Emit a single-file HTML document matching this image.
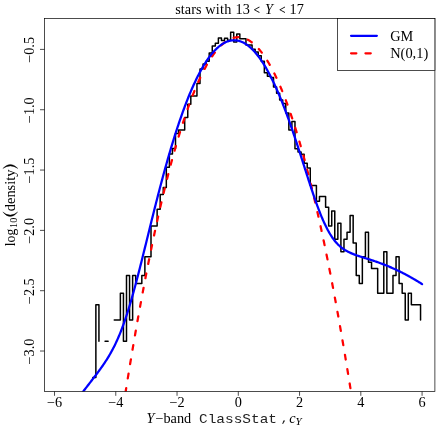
<!DOCTYPE html>
<html><head><meta charset="utf-8"><title>plot</title>
<style>
html,body{margin:0;padding:0;background:#fff;}
svg{display:block;will-change:transform;font-family:"Liberation Serif",serif;fill:#000;}
.mono{font-family:"Liberation Mono",monospace;}
</style></head><body>
<svg width="436" height="436" viewBox="0 0 436 436">
<rect width="436" height="436" fill="#fff"/>
<defs><clipPath id="c"><rect x="44.5" y="18.5" width="390.4" height="373.0"/></clipPath></defs>
<g clip-path="url(#c)" fill="none">
<path d="M92.81 377.50H95.87V304.86H98.93V341.18M105.06 341.18H108.12V341.18M114.25 319.94H117.31V319.94H120.37V293.17H123.44V341.18H126.50V275.54H129.56V319.94H132.63V275.54H135.69V283.62H138.75V283.62H141.82V275.54H144.88V256.85H147.94V256.85H151.00V226.05H154.07V226.05H157.13V209.20H160.19V194.50H163.26V187.40H166.32V167.20H169.38V154.00H172.45V148.50H175.51V133.60H178.57V130.10H181.63V130.10H184.70V117.60H187.76V104.20H190.82V96.05H193.89V96.05H196.95V83.60H200.01V68.90H203.08V64.00H206.14V61.30H209.20V53.00H212.26V46.10H215.33V43.30H218.39V37.90H221.45V40.50H224.52V38.20H227.58V40.30H230.64V32.30H233.71V41.90H236.77V34.10H239.83V38.70H242.89V38.70H245.96V45.10H249.02V45.10H252.08V49.30H255.15V52.00H258.21V55.70H261.27V61.20H264.34V72.80H267.40V76.30H270.46V77.40H273.52V87.00H276.59V93.30H279.65V100.00H282.71V103.50H285.78V113.10H288.84V130.10H291.90V121.60H294.97V148.80H298.03V151.90H301.09V154.20H304.15V163.20H307.22V168.00H310.28V185.50H313.34V185.50H316.41V201.30H319.47V196.50H322.53V196.50H325.60V207.30H328.66V226.05H331.72V210.98H334.78V239.22H337.85V223.22H340.91V251.86H343.97V239.22H347.04V232.22H350.10V215.54H353.16V243.10H356.23V275.54H359.29V283.62H362.35V256.85H365.41V232.22H368.48V262.37H371.54V268.54H374.60V268.54H377.67V293.17H380.73V293.17H383.79V251.86H386.86V293.17H389.92V293.17H392.98V275.54H396.04V256.85H399.11V283.62H402.17V293.17H405.23V319.94H408.30V293.17H411.36V304.86H414.42V304.86H417.49V304.86H420.55V319.94" stroke="#000" stroke-width="1.5" stroke-linejoin="round" stroke-linecap="round"/>
<path d="M121.91 415.54L122.49 411.76L123.07 408.01L123.65 404.27L124.23 400.55L124.82 396.86L125.40 393.18L125.98 389.52L126.56 385.88L127.14 382.25L127.73 378.65L128.31 375.07L128.89 371.50L129.47 367.95L130.05 364.43L130.64 360.92L131.22 357.43L131.80 353.96L132.38 350.50L132.96 347.07L133.55 343.66L134.13 340.26L134.71 336.88L135.29 333.53L135.87 330.19L136.46 326.87L137.04 323.57L137.62 320.29L138.20 317.02L138.78 313.78L139.37 310.55L139.95 307.35L140.53 304.16L141.11 300.99L141.69 297.84L142.27 294.71L142.86 291.60L143.44 288.51L144.02 285.43L144.60 282.38L145.18 279.34L145.77 276.33L146.35 273.33L146.93 270.35L147.51 267.39L148.09 264.45L148.68 261.53L149.26 258.62L149.84 255.74L150.42 252.87L151.00 250.02L151.59 247.20L152.17 244.39L152.75 241.60L153.33 238.83L153.91 236.07L154.50 233.34L155.08 230.63L155.66 227.93L156.24 225.25L156.82 222.60L157.41 219.96L157.99 217.34L158.57 214.74L159.15 212.16L159.73 209.59L160.32 207.05L160.90 204.52L161.48 202.02L162.06 199.53L162.64 197.06L163.23 194.61L163.81 192.18L164.39 189.77L164.97 187.38L165.55 185.00L166.14 182.65L166.72 180.31L167.30 177.99L167.88 175.70L168.46 173.42L169.05 171.16L169.63 168.92L170.21 166.69L170.79 164.49L171.37 162.30L171.96 160.14L172.54 157.99L173.12 155.86L173.70 153.75L174.28 151.66L174.87 149.59L175.45 147.54L176.03 145.51L176.61 143.49L177.19 141.50L177.78 139.52L178.36 137.56L178.94 135.62L179.52 133.70L180.10 131.80L180.68 129.92L181.27 128.06L181.85 126.21L182.43 124.39L183.01 122.58L183.59 120.79L184.18 119.03L184.76 117.28L185.34 115.54L185.92 113.83L186.50 112.14L187.09 110.47L187.67 108.81L188.25 107.17L188.83 105.56L189.41 103.96L190.00 102.38L190.58 100.82L191.16 99.28L191.74 97.75L192.32 96.25L192.91 94.77L193.49 93.30L194.07 91.85L194.65 90.43L195.23 89.02L195.82 87.63L196.40 86.25L196.98 84.90L197.56 83.57L198.14 82.25L198.73 80.96L199.31 79.68L199.89 78.42L200.47 77.18L201.05 75.96L201.64 74.76L202.22 73.58L202.80 72.42L203.38 71.27L203.96 70.15L204.55 69.04L205.13 67.95L205.71 66.88L206.29 65.83L206.87 64.80L207.46 63.79L208.04 62.80L208.62 61.82L209.20 60.87L209.78 59.93L210.37 59.02L210.95 58.12L211.53 57.24L212.11 56.38L212.69 55.54L213.28 54.71L213.86 53.91L214.44 53.12L215.02 52.36L215.60 51.61L216.19 50.88L216.77 50.17L217.35 49.48L217.93 48.81L218.51 48.16L219.09 47.52L219.68 46.91L220.26 46.31L220.84 45.74L221.42 45.18L222.00 44.64L222.59 44.12L223.17 43.62L223.75 43.14L224.33 42.67L224.91 42.23L225.50 41.80L226.08 41.40L226.66 41.01L227.24 40.64L227.82 40.29L228.41 39.96L228.99 39.65L229.57 39.35L230.15 39.08L230.73 38.82L231.32 38.59L231.90 38.37L232.48 38.17L233.06 37.99L233.64 37.83L234.23 37.69L234.81 37.57L235.39 37.46L235.97 37.38L236.55 37.31L237.14 37.26L237.72 37.23L238.30 37.23L238.88 37.23L239.46 37.26L240.05 37.31L240.63 37.38L241.21 37.46L241.79 37.57L242.37 37.69L242.96 37.83L243.54 37.99L244.12 38.17L244.70 38.37L245.28 38.59L245.87 38.82L246.45 39.08L247.03 39.35L247.61 39.65L248.19 39.96L248.78 40.29L249.36 40.64L249.94 41.01L250.52 41.40L251.10 41.80L251.69 42.23L252.27 42.67L252.85 43.14L253.43 43.62L254.01 44.12L254.60 44.64L255.18 45.18L255.76 45.74L256.34 46.31L256.92 46.91L257.51 47.52L258.09 48.16L258.67 48.81L259.25 49.48L259.83 50.17L260.41 50.88L261.00 51.61L261.58 52.36L262.16 53.12L262.74 53.91L263.32 54.71L263.91 55.54L264.49 56.38L265.07 57.24L265.65 58.12L266.23 59.02L266.82 59.93L267.40 60.87L267.98 61.82L268.56 62.80L269.14 63.79L269.73 64.80L270.31 65.83L270.89 66.88L271.47 67.95L272.05 69.04L272.64 70.15L273.22 71.27L273.80 72.42L274.38 73.58L274.96 74.76L275.55 75.96L276.13 77.18L276.71 78.42L277.29 79.68L277.87 80.96L278.46 82.25L279.04 83.57L279.62 84.90L280.20 86.25L280.78 87.63L281.37 89.02L281.95 90.43L282.53 91.85L283.11 93.30L283.69 94.77L284.28 96.25L284.86 97.75L285.44 99.28L286.02 100.82L286.60 102.38L287.19 103.96L287.77 105.56L288.35 107.17L288.93 108.81L289.51 110.47L290.10 112.14L290.68 113.83L291.26 115.54L291.84 117.28L292.42 119.03L293.01 120.79L293.59 122.58L294.17 124.39L294.75 126.21L295.33 128.06L295.92 129.92L296.50 131.80L297.08 133.70L297.66 135.62L298.24 137.56L298.82 139.52L299.41 141.50L299.99 143.49L300.57 145.51L301.15 147.54L301.73 149.59L302.32 151.66L302.90 153.75L303.48 155.86L304.06 157.99L304.64 160.14L305.23 162.30L305.81 164.49L306.39 166.69L306.97 168.92L307.55 171.16L308.14 173.42L308.72 175.70L309.30 177.99L309.88 180.31L310.46 182.65L311.05 185.00L311.63 187.38L312.21 189.77L312.79 192.18L313.37 194.61L313.96 197.06L314.54 199.53L315.12 202.02L315.70 204.52L316.28 207.05L316.87 209.59L317.45 212.16L318.03 214.74L318.61 217.34L319.19 219.96L319.78 222.60L320.36 225.25L320.94 227.93L321.52 230.63L322.10 233.34L322.69 236.07L323.27 238.83L323.85 241.60L324.43 244.39L325.01 247.20L325.60 250.02L326.18 252.87L326.76 255.74L327.34 258.62L327.92 261.53L328.51 264.45L329.09 267.39L329.67 270.35L330.25 273.33L330.83 276.33L331.42 279.34L332.00 282.38L332.58 285.43L333.16 288.51L333.74 291.60L334.33 294.71L334.91 297.84L335.49 300.99L336.07 304.16L336.65 307.35L337.23 310.55L337.82 313.78L338.40 317.02L338.98 320.29L339.56 323.57L340.14 326.87L340.73 330.19L341.31 333.53L341.89 336.88L342.47 340.26L343.05 343.66L343.64 347.07L344.22 350.50L344.80 353.96L345.38 357.43L345.96 360.92L346.55 364.43L347.13 367.95L347.71 371.50L348.29 375.07L348.87 378.65L349.46 382.25L350.04 385.88L350.62 389.52L351.20 393.18L351.78 396.86L352.37 400.55L352.95 404.27L353.53 408.01L354.11 411.76L354.69 415.54" stroke="#ff0000" stroke-width="2.25" stroke-dasharray="4.75 9.79" stroke-dashoffset="6.03" stroke-linecap="round"/>
<path d="M54.52 431.92L55.13 430.98L55.75 430.04L56.36 429.11L56.97 428.18L57.58 427.25L58.20 426.33L58.81 425.41L59.42 424.50L60.03 423.59L60.65 422.68L61.26 421.78L61.87 420.87L62.48 419.98L63.10 419.08L63.71 418.19L64.32 417.31L64.93 416.42L65.55 415.54L66.16 414.67L66.77 413.79L67.38 412.92L68.00 412.05L68.61 411.19L69.22 410.33L69.84 409.47L70.45 408.62L71.06 407.77L71.67 406.92L72.29 406.08L72.90 405.23L73.51 404.40L74.12 403.56L74.74 402.73L75.35 401.90L75.96 401.07L76.57 400.25L77.19 399.42L77.80 398.61L78.41 397.79L79.02 396.97L79.64 396.16L80.25 395.35L80.86 394.55L81.47 393.74L82.09 392.94L82.70 392.14L83.31 391.34L83.92 390.54L84.54 389.74L85.15 388.95L85.76 388.15L86.38 387.36L86.99 386.57L87.60 385.78L88.21 384.98L88.83 384.19L89.44 383.40L90.05 382.61L90.66 381.82L91.28 381.03L91.89 380.24L92.50 379.44L93.11 378.64L93.73 377.85L94.34 377.05L94.95 376.24L95.56 375.44L96.18 374.63L96.79 373.81L97.40 372.99L98.01 372.17L98.63 371.34L99.24 370.51L99.85 369.67L100.47 368.82L101.08 367.96L101.69 367.10L102.30 366.23L102.92 365.34L103.53 364.45L104.14 363.55L104.75 362.63L105.37 361.70L105.98 360.76L106.59 359.80L107.20 358.83L107.82 357.85L108.43 356.84L109.04 355.82L109.65 354.78L110.27 353.72L110.88 352.64L111.49 351.53L112.10 350.41L112.72 349.26L113.33 348.09L113.94 346.89L114.55 345.66L115.17 344.41L115.78 343.13L116.39 341.82L117.01 340.48L117.62 339.12L118.23 337.72L118.84 336.29L119.46 334.82L120.07 333.33L120.68 331.80L121.29 330.23L121.91 328.63L122.52 327.00L123.13 325.34L123.74 323.64L124.36 321.90L124.97 320.13L125.58 318.32L126.19 316.49L126.81 314.61L127.42 312.71L128.03 310.77L128.64 308.79L129.26 306.79L129.87 304.75L130.48 302.69L131.10 300.59L131.71 298.47L132.32 296.32L132.93 294.14L133.55 291.93L134.16 289.70L134.77 287.45L135.38 285.17L136.00 282.87L136.61 280.55L137.22 278.22L137.83 275.86L138.45 273.49L139.06 271.10L139.67 268.70L140.28 266.28L140.90 263.86L141.51 261.42L142.12 258.97L142.73 256.52L143.35 254.05L143.96 251.58L144.57 249.11L145.18 246.63L145.80 244.15L146.41 241.66L147.02 239.18L147.64 236.69L148.25 234.21L148.86 231.72L149.47 229.24L150.09 226.76L150.70 224.29L151.31 221.82L151.92 219.35L152.54 216.90L153.15 214.44L153.76 212.00L154.37 209.56L154.99 207.13L155.60 204.72L156.21 202.31L156.82 199.91L157.44 197.52L158.05 195.14L158.66 192.78L159.27 190.42L159.89 188.08L160.50 185.75L161.11 183.44L161.73 181.13L162.34 178.85L162.95 176.57L163.56 174.31L164.18 172.07L164.79 169.84L165.40 167.62L166.01 165.43L166.63 163.24L167.24 161.08L167.85 158.93L168.46 156.79L169.08 154.67L169.69 152.57L170.30 150.49L170.91 148.42L171.53 146.38L172.14 144.34L172.75 142.33L173.36 140.34L173.98 138.36L174.59 136.40L175.20 134.46L175.81 132.53L176.43 130.63L177.04 128.74L177.65 126.87L178.27 125.02L178.88 123.19L179.49 121.38L180.10 119.59L180.72 117.82L181.33 116.06L181.94 114.33L182.55 112.61L183.17 110.91L183.78 109.24L184.39 107.58L185.00 105.94L185.62 104.32L186.23 102.72L186.84 101.14L187.45 99.58L188.07 98.04L188.68 96.52L189.29 95.02L189.90 93.54L190.52 92.08L191.13 90.64L191.74 89.22L192.36 87.82L192.97 86.44L193.58 85.08L194.19 83.74L194.81 82.41L195.42 81.11L196.03 79.83L196.64 78.57L197.26 77.33L197.87 76.11L198.48 74.91L199.09 73.73L199.71 72.57L200.32 71.43L200.93 70.32L201.54 69.22L202.16 68.14L202.77 67.08L203.38 66.04L203.99 65.03L204.61 64.03L205.22 63.05L205.83 62.10L206.44 61.16L207.06 60.25L207.67 59.35L208.28 58.48L208.90 57.62L209.51 56.79L210.12 55.98L210.73 55.19L211.35 54.41L211.96 53.66L212.57 52.93L213.18 52.22L213.80 51.53L214.41 50.86L215.02 50.21L215.63 49.58L216.25 48.97L216.86 48.39L217.47 47.82L218.08 47.27L218.70 46.75L219.31 46.24L219.92 45.76L220.53 45.29L221.15 44.85L221.76 44.43L222.37 44.02L222.99 43.64L223.60 43.28L224.21 42.94L224.82 42.62L225.44 42.32L226.05 42.04L226.66 41.78L227.27 41.54L227.89 41.32L228.50 41.13L229.11 40.95L229.72 40.79L230.34 40.66L230.95 40.54L231.56 40.45L232.17 40.37L232.79 40.32L233.40 40.29L234.01 40.28L234.62 40.28L235.24 40.31L235.85 40.36L236.46 40.43L237.07 40.52L237.69 40.63L238.30 40.76L238.91 40.91L239.53 41.09L240.14 41.28L240.75 41.49L241.36 41.73L241.98 41.98L242.59 42.25L243.20 42.55L243.81 42.86L244.43 43.20L245.04 43.56L245.65 43.93L246.26 44.33L246.88 44.75L247.49 45.18L248.10 45.64L248.71 46.12L249.33 46.62L249.94 47.14L250.55 47.68L251.16 48.24L251.78 48.82L252.39 49.42L253.00 50.04L253.62 50.68L254.23 51.34L254.84 52.02L255.45 52.72L256.07 53.44L256.68 54.19L257.29 54.95L257.90 55.73L258.52 56.53L259.13 57.35L259.74 58.19L260.35 59.06L260.97 59.94L261.58 60.84L262.19 61.76L262.80 62.70L263.42 63.66L264.03 64.64L264.64 65.64L265.25 66.66L265.87 67.70L266.48 68.76L267.09 69.84L267.70 70.94L268.32 72.06L268.93 73.20L269.54 74.35L270.16 75.53L270.77 76.72L271.38 77.94L271.99 79.17L272.61 80.42L273.22 81.69L273.83 82.98L274.44 84.29L275.06 85.61L275.67 86.96L276.28 88.32L276.89 89.70L277.51 91.10L278.12 92.52L278.73 93.96L279.34 95.41L279.96 96.88L280.57 98.37L281.18 99.88L281.79 101.40L282.41 102.94L283.02 104.50L283.63 106.07L284.25 107.66L284.86 109.26L285.47 110.89L286.08 112.52L286.70 114.18L287.31 115.85L287.92 117.53L288.53 119.23L289.15 120.94L289.76 122.66L290.37 124.41L290.98 126.16L291.60 127.93L292.21 129.70L292.82 131.50L293.43 133.30L294.05 135.11L294.66 136.94L295.27 138.78L295.88 140.62L296.50 142.48L297.11 144.34L297.72 146.22L298.33 148.10L298.95 149.99L299.56 151.88L300.17 153.78L300.79 155.69L301.40 157.60L302.01 159.51L302.62 161.43L303.24 163.35L303.85 165.27L304.46 167.19L305.07 169.10L305.69 171.02L306.30 172.94L306.91 174.85L307.52 176.76L308.14 178.66L308.75 180.56L309.36 182.44L309.97 184.32L310.59 186.19L311.20 188.05L311.81 189.90L312.42 191.73L313.04 193.55L313.65 195.35L314.26 197.14L314.88 198.90L315.49 200.65L316.10 202.38L316.71 204.08L317.33 205.77L317.94 207.42L318.55 209.06L319.16 210.66L319.78 212.24L320.39 213.80L321.00 215.32L321.61 216.81L322.23 218.27L322.84 219.70L323.45 221.10L324.06 222.47L324.68 223.80L325.29 225.10L325.90 226.36L326.51 227.59L327.13 228.79L327.74 229.95L328.35 231.07L328.96 232.16L329.58 233.22L330.19 234.24L330.80 235.23L331.42 236.18L332.03 237.10L332.64 237.99L333.25 238.85L333.87 239.67L334.48 240.46L335.09 241.22L335.70 241.95L336.32 242.66L336.93 243.33L337.54 243.98L338.15 244.60L338.77 245.19L339.38 245.76L339.99 246.31L340.60 246.84L341.22 247.34L341.83 247.82L342.44 248.28L343.05 248.73L343.67 249.15L344.28 249.56L344.89 249.95L345.50 250.32L346.12 250.68L346.73 251.03L347.34 251.37L347.96 251.69L348.57 252.00L349.18 252.30L349.79 252.59L350.41 252.87L351.02 253.14L351.63 253.40L352.24 253.66L352.86 253.90L353.47 254.15L354.08 254.38L354.69 254.61L355.31 254.84L355.92 255.06L356.53 255.27L357.14 255.49L357.76 255.70L358.37 255.90L358.98 256.11L359.59 256.31L360.21 256.51L360.82 256.71L361.43 256.90L362.05 257.10L362.66 257.29L363.27 257.49L363.88 257.68L364.50 257.87L365.11 258.06L365.72 258.26L366.33 258.45L366.95 258.64L367.56 258.84L368.17 259.03L368.78 259.23L369.40 259.42L370.01 259.62L370.62 259.82L371.23 260.02L371.85 260.22L372.46 260.42L373.07 260.62L373.68 260.83L374.30 261.03L374.91 261.24L375.52 261.45L376.13 261.66L376.75 261.88L377.36 262.09L377.97 262.31L378.59 262.53L379.20 262.75L379.81 262.98L380.42 263.20L381.04 263.43L381.65 263.66L382.26 263.89L382.87 264.12L383.49 264.36L384.10 264.60L384.71 264.84L385.32 265.08L385.94 265.33L386.55 265.58L387.16 265.83L387.77 266.08L388.39 266.33L389.00 266.59L389.61 266.85L390.22 267.11L390.84 267.38L391.45 267.64L392.06 267.91L392.68 268.18L393.29 268.46L393.90 268.73L394.51 269.01L395.13 269.29L395.74 269.57L396.35 269.86L396.96 270.15L397.58 270.44L398.19 270.73L398.80 271.03L399.41 271.33L400.03 271.63L400.64 271.93L401.25 272.23L401.86 272.54L402.48 272.85L403.09 273.17L403.70 273.48L404.31 273.80L404.93 274.12L405.54 274.44L406.15 274.77L406.76 275.09L407.38 275.42L407.99 275.76L408.60 276.09L409.22 276.43L409.83 276.77L410.44 277.11L411.05 277.46L411.67 277.80L412.28 278.15L412.89 278.50L413.50 278.86L414.12 279.22L414.73 279.58L415.34 279.94L415.95 280.30L416.57 280.67L417.18 281.04L417.79 281.41L418.40 281.79L419.02 282.16L419.63 282.54L420.24 282.92L420.85 283.31L421.47 283.70L422.08 284.09" stroke="#0000ff" stroke-width="2.25" stroke-linejoin="round" stroke-linecap="round"/>
</g>
<rect x="44.5" y="18.5" width="390.4" height="373.0" fill="none" stroke="#000" stroke-width="0.7"/>
<g stroke="#000" stroke-width="0.7"><line x1="54.52" y1="391.50" x2="54.52" y2="395.80"/><line x1="115.78" y1="391.50" x2="115.78" y2="395.80"/><line x1="177.04" y1="391.50" x2="177.04" y2="395.80"/><line x1="238.30" y1="391.50" x2="238.30" y2="395.80"/><line x1="299.56" y1="391.50" x2="299.56" y2="395.80"/><line x1="360.82" y1="391.50" x2="360.82" y2="395.80"/><line x1="422.08" y1="391.50" x2="422.08" y2="395.80"/><line x1="40.00" y1="49.40" x2="44.50" y2="49.40"/><line x1="40.00" y1="109.72" x2="44.50" y2="109.72"/><line x1="40.00" y1="170.05" x2="44.50" y2="170.05"/><line x1="40.00" y1="230.38" x2="44.50" y2="230.38"/><line x1="40.00" y1="290.70" x2="44.50" y2="290.70"/><line x1="40.00" y1="351.02" x2="44.50" y2="351.02"/></g>
<text transform="translate(54.52 407.00) scale(1.020 1)" text-anchor="middle" font-size="14.00px">−6</text><text transform="translate(115.78 407.00) scale(1.020 1)" text-anchor="middle" font-size="14.00px">−4</text><text transform="translate(177.04 407.00) scale(1.020 1)" text-anchor="middle" font-size="14.00px">−2</text><text transform="translate(238.30 407.00) scale(1.020 1)" text-anchor="middle" font-size="14.00px">0</text><text transform="translate(299.56 407.00) scale(1.020 1)" text-anchor="middle" font-size="14.00px">2</text><text transform="translate(360.82 407.00) scale(1.020 1)" text-anchor="middle" font-size="14.00px">4</text><text transform="translate(422.08 407.00) scale(1.020 1)" text-anchor="middle" font-size="14.00px">6</text><text transform="translate(34.10 49.90) rotate(-90) scale(1.020 1)" text-anchor="middle" font-size="14.00px">−0.5</text><text transform="translate(34.10 110.22) rotate(-90) scale(1.020 1)" text-anchor="middle" font-size="14.00px">−1.0</text><text transform="translate(34.10 170.55) rotate(-90) scale(1.020 1)" text-anchor="middle" font-size="14.00px">−1.5</text><text transform="translate(34.10 230.88) rotate(-90) scale(1.020 1)" text-anchor="middle" font-size="14.00px">−2.0</text><text transform="translate(34.10 291.20) rotate(-90) scale(1.020 1)" text-anchor="middle" font-size="14.00px">−2.5</text><text transform="translate(34.10 351.52) rotate(-90) scale(1.020 1)" text-anchor="middle" font-size="14.00px">−3.0</text>
<text transform="translate(175.30 13.70) scale(1.020 1)" text-anchor="start" font-size="14.00px">stars</text><text transform="translate(205.20 13.70) scale(1.020 1)" text-anchor="start" font-size="14.00px" letter-spacing="0.3">with</text><text transform="translate(235.50 13.70) scale(1.020 1)" text-anchor="start" font-size="14.00px">13</text><text transform="translate(265.00 13.70) scale(1.020 1)" text-anchor="start" font-size="14.00px" font-style="italic">Y</text><text transform="translate(289.60 13.70) scale(1.020 1)" text-anchor="start" font-size="14.00px">17</text><text transform="translate(253.60 14.20) scale(1.000 1)" text-anchor="start" font-size="11.50px" font-weight="bold">&lt;</text><text transform="translate(279.10 14.20) scale(1.000 1)" text-anchor="start" font-size="11.50px" font-weight="bold">&lt;</text>
<text transform="translate(14.80 246.20) rotate(-90) scale(0.980 1)" text-anchor="start" font-size="14.00px">log</text><text transform="translate(16.90 227.90) rotate(-90) scale(1.000 1)" text-anchor="start" font-size="10.20px">10</text><text transform="translate(14.80 211.20) rotate(-90) scale(1.030 1)" text-anchor="start" font-size="14.00px">density</text><path d="M2.8 212.0Q10.2 221.2 17.7 212.0Q10.2 218.2 2.8 212.0Z" stroke="#000" stroke-width="0.3"/><path d="M2.8 168.5Q10.3 160.3 17.9 168.5Q10.3 163.3 2.8 168.5Z" stroke="#000" stroke-width="0.3"/>
<text transform="translate(146.60 422.50) scale(1.020 1)" text-anchor="start" font-size="14.00px" font-style="italic">Y</text><text transform="translate(155.40 422.50) scale(1.020 1)" text-anchor="start" font-size="14.00px">−band</text><text transform="translate(199.00 422.50) scale(1.205 1)" text-anchor="start" font-size="12.00px" class="mono" fill="#222">ClassStat</text><text transform="translate(280.60 422.30) scale(1.250 1)" text-anchor="start" font-size="11.00px" class="mono" fill="#222">,</text><text transform="translate(289.30 422.50) scale(1.020 1)" text-anchor="start" font-size="14.00px" font-style="italic">c</text><text transform="translate(295.40 425.00) scale(1.120 1)" text-anchor="start" font-size="9.80px" font-style="italic">Y</text>
<rect x="337.6" y="18.5" width="97.30" height="52.00" fill="#fff" stroke="#000" stroke-width="0.7"/>
<line x1="351.05" y1="35.8" x2="376.85" y2="35.8" stroke="#0000ff" stroke-width="2.25" stroke-linecap="round"/>
<line x1="351.05" y1="53.35" x2="371.0" y2="53.35" stroke="#ff0000" stroke-width="2.25" stroke-dasharray="5.3 9.1" stroke-linecap="round"/>
<text transform="translate(390.20 40.50) scale(1.020 1)" text-anchor="start" font-size="14.00px">GM</text><text transform="translate(390.20 58.00) scale(1.030 1)" text-anchor="start" font-size="14.00px">N(0,1)</text>
</svg>
</body></html>
